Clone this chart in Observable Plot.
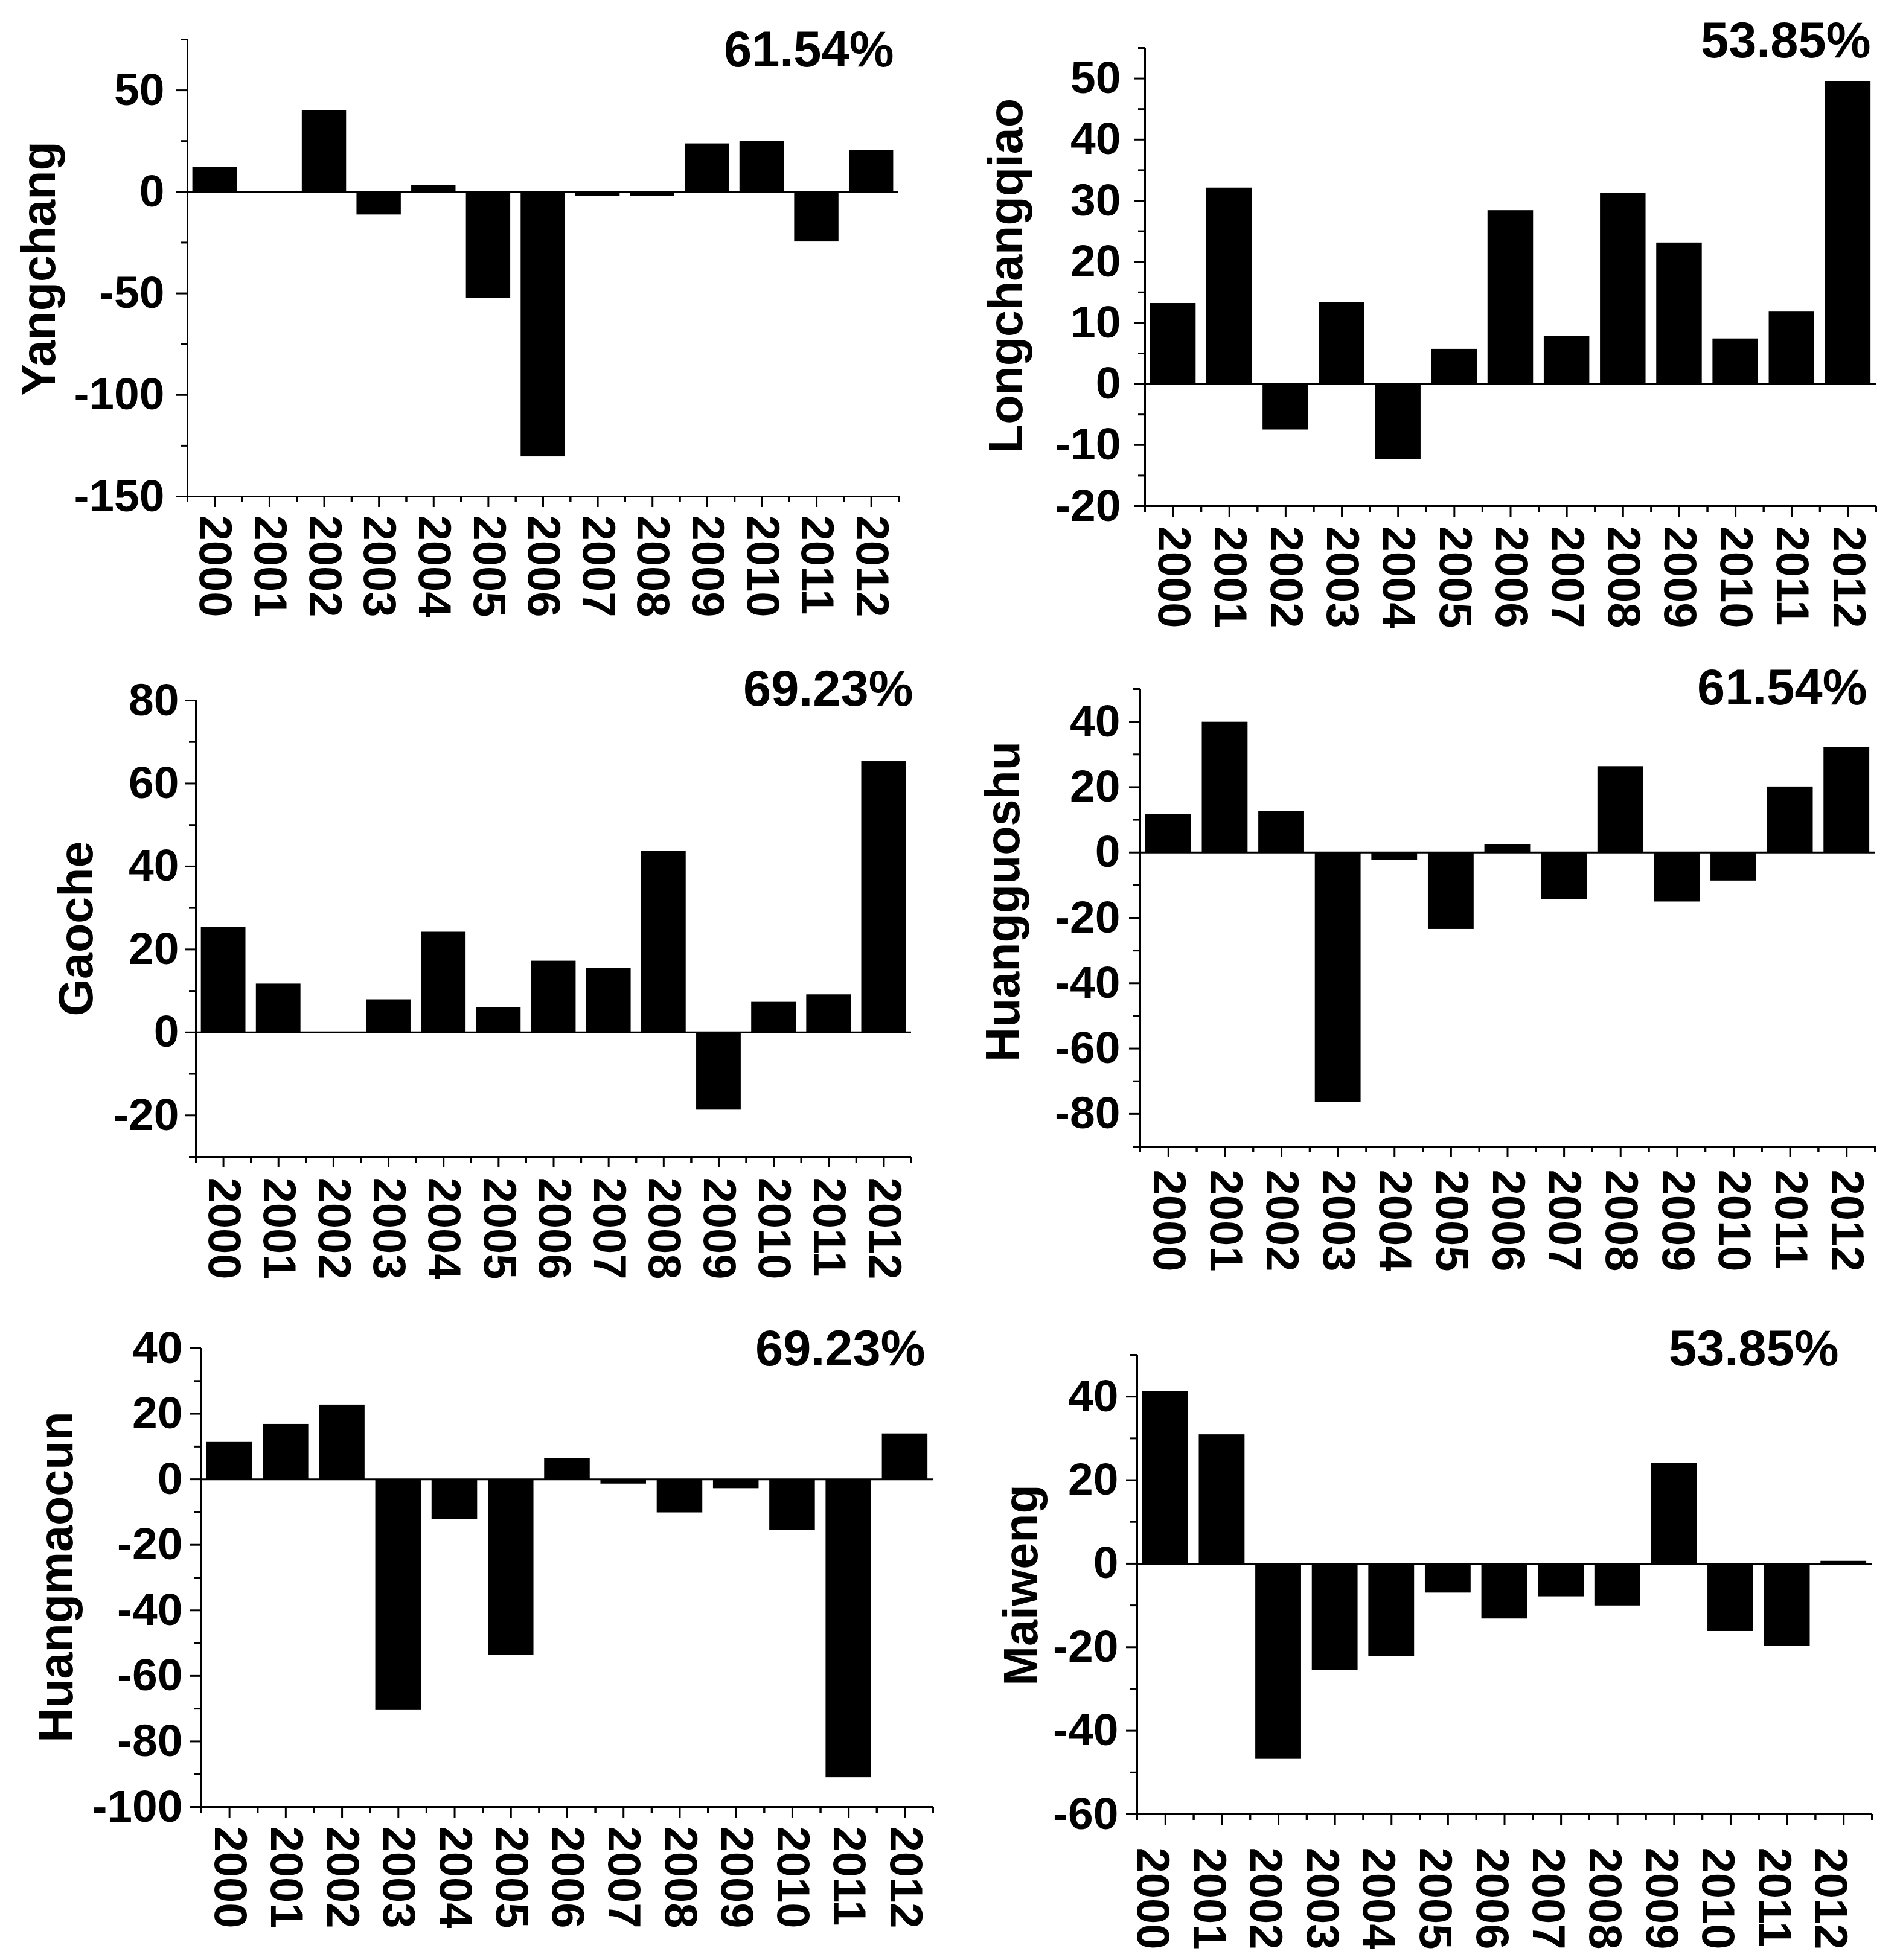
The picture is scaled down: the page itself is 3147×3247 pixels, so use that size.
<!DOCTYPE html>
<html>
<head>
<meta charset="utf-8">
<script src="https://cdn.jsdelivr.net/npm/d3@7"></script>
<script src="https://cdn.jsdelivr.net/npm/@observablehq/plot@0.6"></script>
<style>
html, body { margin: 0; padding: 0; background: #fff; }
#fig { position: relative; width: 3147px; height: 3247px; background: #fff; overflow: hidden; }
.panel { position: absolute; }
.panel svg { display: block; overflow: visible; }
</style>
</head>
<body>
<div id="fig"></div>
<script>
// ---- data ----
const years = ["2000","2001","2002","2003","2004","2005","2006","2007","2008","2009","2010","2011","2012"];
const stations = ["Yangchang", "Longchangqiao", "Gaoche", "Huangguoshu", "Huangmaocun", "Maiweng"];
const percents = ["61.54%", "53.85%", "69.23%", "61.54%", "69.23%", "53.85%"];

const yangchang     = [12.1, 0, 40, -11.3, 3.1, -52.3, -130.4, -2, -2, 23.7, 24.8, -24.6, 20.6];
const longchangqiao = [13.2, 32.1, -7.5, 13.4, -12.3, 5.7, 28.4, 7.8, 31.2, 23.1, 7.4, 11.8, 49.5];
const gaoche        = [25.4, 11.7, 0, 7.9, 24.2, 6.0, 17.2, 15.4, 43.7, -18.7, 7.3, 9.1, 65.3];
const huangguoshu   = [11.6, 39.9, 12.6, -76.5, -2.4, -23.5, 2.5, -14.3, 26.3, -15.1, -8.7, 20.1, 32.2];
const huangmaocun   = [11.3, 16.8, 22.7, -70.5, -12.2, -53.6, 6.4, -1.4, -10.2, -2.8, -15.5, -91.0, 13.9];
const maiweng       = [41.3, 30.9, -46.8, -25.5, -22.2, -7.0, -13.2, -7.9, -10.1, 24.0, -16.2, -19.8, 0.6];
const seriesValues = [yangchang, longchangqiao, gaoche, huangguoshu, huangmaocun, maiweng];

const yDomains = [[-150, 75], [-20, 55], [-30, 80], [-90, 50], [-100, 40], [-60, 50]];
const yTicks = [
  [-150, -100, -50, 0, 50],
  [-20, -10, 0, 10, 20, 30, 40, 50],
  [-20, 0, 20, 40, 60, 80],
  [-80, -60, -40, -20, 0, 20, 40],
  [-100, -80, -60, -40, -20, 0, 20, 40],
  [-60, -40, -20, 0, 20, 40]
];
const yMinorTicks = [
  [-125, -75, -25, 25, 75],
  [-15, -5, 5, 15, 25, 35, 45, 55],
  [-30, -10, 10, 30, 50, 70],
  [-90, -70, -50, -30, -10, 10, 30, 50],
  [-90, -70, -50, -30, -10, 10, 30],
  [-50, -30, -10, 10, 30, 50]
];

// ---- layout (pixels) ----
const layout = [
  {left: 0,    top: 0,    width: 1575, height: 1080, mL: 310, mR: 87, mT: 65, mB: 258, yGap: 38, xGap: 31, xDx: 0,   labDx: -220, labDy: 1,   pctDx: -8,  pctDy: 44},
  {left: 1575, top: 0,    width: 1572, height: 1080, mL: 321, mR: 40, mT: 79, mB: 242, yGap: 40, xGap: 33, xDx: 0,   labDx: -204, labDy: -2,  pctDx: -9,  pctDy: 15},
  {left: 0,    top: 1080, width: 1575, height: 1070, mL: 324, mR: 66, mT: 80, mB: 234, yGap: 28, xGap: 34, xDx: 0,   labDx: -172, labDy: 0,   pctDx: 3,   pctDy: 8},
  {left: 1575, top: 1080, width: 1572, height: 1070, mL: 313, mR: 42, mT: 61, mB: 251, yGap: 33, xGap: 38, xDx: 0,   labDx: -201, labDy: -27, pctDx: -13, pctDy: 25},
  {left: 0,    top: 2150, width: 1575, height: 1097, mL: 333, mR: 30, mT: 83, mB: 254, yGap: 31, xGap: 32, xDx: 0,   labDx: -214, labDy: -1,  pctDx: -13, pctDy: 28},
  {left: 1575, top: 2150, width: 1572, height: 1097, mL: 308, mR: 47, mT: 94, mB: 242, yGap: 31, xGap: 55, xDx: -22, labDx: -166, labDy: 1,   pctDx: -55, pctDy: 17}
];

const FONT = "font-family: 'Liberation Sans', Arial, Helvetica, sans-serif; font-weight: bold; overflow: visible; background: #fff;";
const fig = document.getElementById("fig");

layout.forEach((L, i) => {
  const data = years.map((year, j) => ({year, value: seriesValues[i][j]}));
  const step = (L.width - L.mL - L.mR) / years.length;
  const yMin = yDomains[i][0];
  const chart = Plot.plot({
    width: L.width,
    height: L.height,
    marginLeft: L.mL,
    marginRight: L.mR,
    marginTop: L.mT,
    marginBottom: L.mB,
    style: FONT,
    x: {type: "band", domain: years, paddingInner: 0.19, paddingOuter: 0.095, round: false},
    y: {domain: yDomains[i]},
    marks: [
      Plot.barY(data, {x: "year", y: "value", fill: "#000"}),
      Plot.ruleY([0], {stroke: "#000", strokeWidth: 3}),
      Plot.ruleY([yMin], {stroke: "#000", strokeWidth: 3}),
      Plot.ruleX([years[0]], {x: d => d, dx: -step / 2, stroke: "#000", strokeWidth: 3}),
      Plot.axisY({ticks: yTicks[i], tickSize: 18, strokeWidth: 3, stroke: "#000", fill: "none", label: null}),
      Plot.axisY({ticks: yMinorTicks[i], tickSize: 11, strokeWidth: 3, stroke: "#000", fill: "none", label: null}),
      Plot.axisY({ticks: yTicks[i], tickSize: 0, tickPadding: L.yGap, tickFormat: d => String(d),
                  fontSize: 75, fontWeight: "bold", fill: "#000", label: null}),
      Plot.axisX({ticks: years, tickSize: 18, strokeWidth: 3, stroke: "#000", fill: "none", label: null}),
      Plot.axisX({ticks: years, tickSize: 10, strokeWidth: 3, stroke: "#000", fill: "none", dx: step / 2, label: null}),
      Plot.axisX({ticks: years, tickSize: 10, strokeWidth: 3, stroke: "#000", fill: "none", dx: -step / 2, label: null}),
      Plot.axisX({ticks: years, tickSize: 0, tickPadding: L.xGap, tickRotate: 90, dx: L.xDx,
                  fontSize: 76, fontWeight: "bold", fill: "#000", label: null}),
      Plot.text([stations[i]], {text: d => d, frameAnchor: "left", rotate: -90, textAnchor: "middle", lineAnchor: "bottom",
                  dx: L.labDx, dy: L.labDy, fontSize: 79, fontWeight: "bold", fill: "#000"}),
      Plot.text([percents[i]], {text: d => d, frameAnchor: "top-right", textAnchor: "end", lineAnchor: "bottom",
                  dx: L.pctDx, dy: L.pctDy, fontSize: 83, fontWeight: "bold", fill: "#000"})
    ]
  });
  const div = document.createElement("div");
  div.className = "panel";
  div.style.left = L.left + "px";
  div.style.top = L.top + "px";
  div.appendChild(chart);
  fig.appendChild(div);
});
</script>
</body>
</html>
